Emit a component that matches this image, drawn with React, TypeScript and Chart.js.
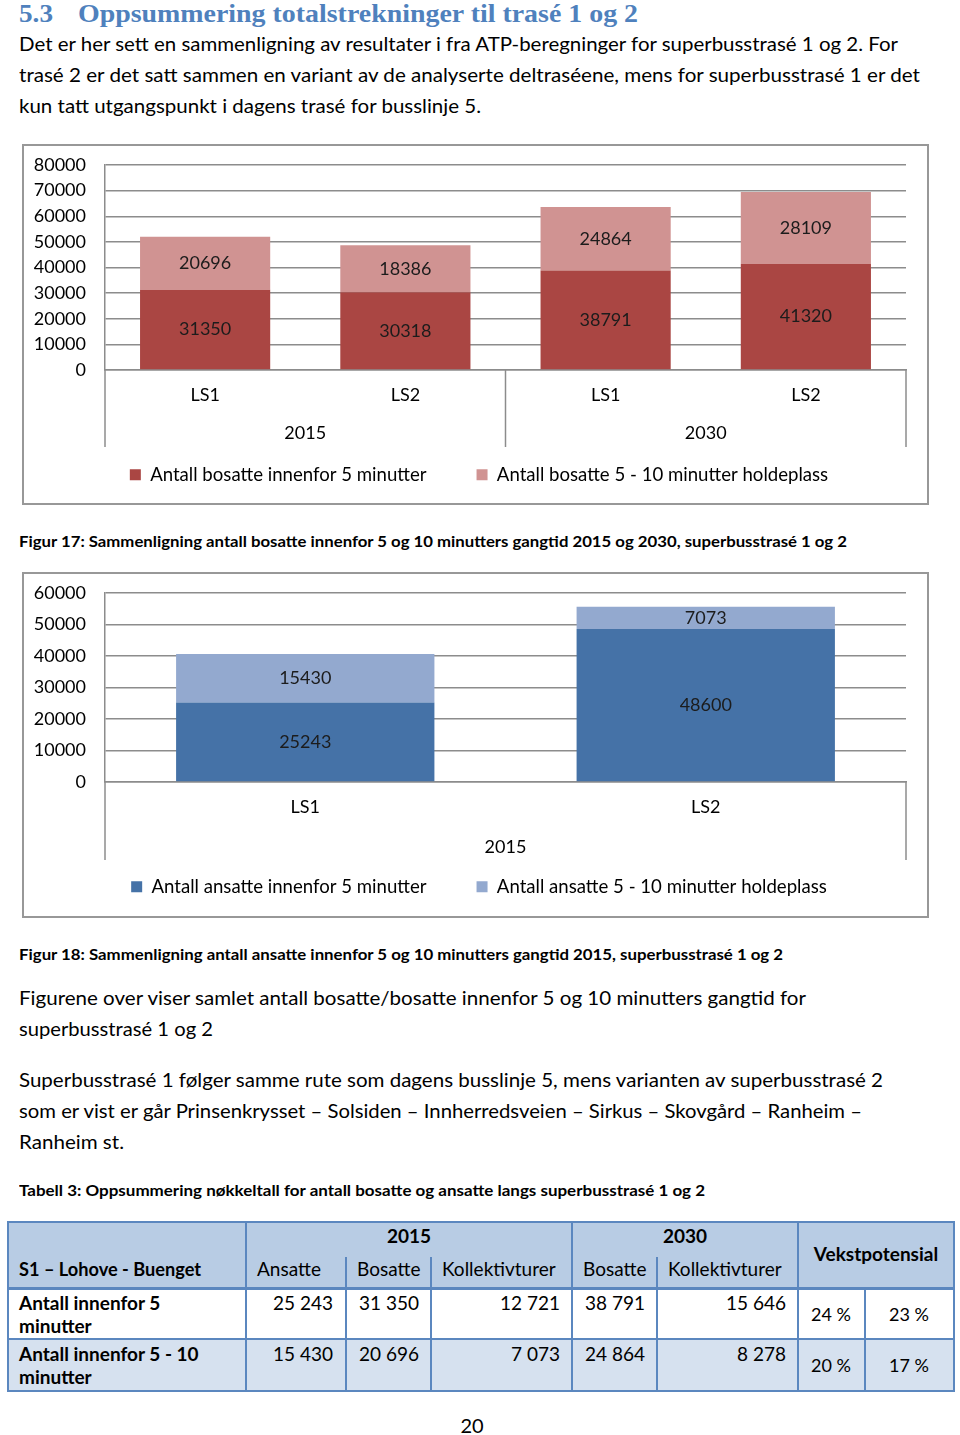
import React, { useEffect, useLayoutEffect, useRef } from 'react';
import { Chart, registerables } from 'chart.js';

Chart.register(...registerables);
Chart.defaults.font.family = 'Lato';

// ---------- Data: Figur 17 (bosatte) ----------
const bosCategories = ['LS1', 'LS2', 'LS1', 'LS2'];
const bosGroups = ['2015', '2030'];
const bosatteInnen5 = [31350, 30318, 38791, 41320];
const bosatte5til10 = [20696, 18386, 24864, 28109];
const bosSeriesLabels = ['Antall bosatte innenfor 5 minutter', 'Antall bosatte 5 - 10 minutter holdeplass'];
const bosYMax = 80000;

// ---------- Data: Figur 18 (ansatte) ----------
const ansCategories = ['LS1', 'LS2'];
const ansGroups = ['2015'];
const ansatteInnen5 = [25243, 48600];
const ansatte5til10 = [15430, 7073];
const ansSeriesLabels = ['Antall ansatte innenfor 5 minutter', 'Antall ansatte 5 - 10 minutter holdeplass'];
const ansYMax = 60000;

const yStep = 10000;

// ---------- Data: Tabell 3 ----------
const tableRowLabels = [['Antall innenfor 5', 'minutter'], ['Antall innenfor 5 - 10', 'minutter']];
const tableValues = [
  ['25 243', '31 350', '12 721', '38 791', '15 646'],
  ['15 430', '20 696', '7 073', '24 864', '8 278'],
];
const tableGrowth = [['24 %', '23 %'], ['20 %', '17 %']];

const GRID = '#8c8c8c';
const BLUE_LINE = '#5B87BF';
const LEGEND_FONT = 18.6;
const LEGEND_PAD = 50;
const PLOT_TOP = 19;
const PAD_LEFT = 28;
const PLOT_LEFT = 81;
const Y_LABEL_GAP = 19;

const groupAxisPlugin = {
  id: 'groupAxis',
  afterDraw(chart: any, _args: any, opts: any) {
    const x = chart.scales.x;
    const ctx = chart.ctx;
    const bottom = chart.chartArea.bottom;
    const groups: string[] = opts.groups;
    const n = chart.data.labels.length;
    const per = n / groups.length;
    const half = (x.getPixelForValue(1) - x.getPixelForValue(0)) / 2;
    ctx.save();
    ctx.strokeStyle = GRID;
    ctx.lineWidth = 1.5;
    for (let g = 0; g <= groups.length; g++) {
      const idx = g * per;
      const px = idx < n ? x.getPixelForValue(idx) - half : x.getPixelForValue(n - 1) + half;
      ctx.beginPath();
      ctx.moveTo(px, bottom);
      ctx.lineTo(px, bottom + opts.length);
      ctx.stroke();
    }
    ctx.fillStyle = '#000';
    ctx.font = '18px Lato';
    ctx.textAlign = 'center';
    ctx.textBaseline = 'middle';
    groups.forEach((label, g) => {
      const a = x.getPixelForValue(g * per);
      const b = x.getPixelForValue(g * per + per - 1);
      ctx.fillText(label, (a + b) / 2, bottom + opts.labelOffset);
    });
    ctx.restore();
  },
};

const valueLabelPlugin = {
  id: 'valueLabels',
  afterDatasetsDraw(chart: any) {
    const ctx = chart.ctx;
    ctx.save();
    ctx.font = '18px Lato';
    ctx.fillStyle = '#1c1c1c';
    ctx.textAlign = 'center';
    ctx.textBaseline = 'middle';
    chart.data.datasets.forEach((ds: any, i: number) => {
      const meta = chart.getDatasetMeta(i);
      meta.data.forEach((el: any, j: number) => {
        ctx.fillText(String(ds.data[j]), el.x, (el.y + el.base) / 2);
      });
    });
    ctx.restore();
  },
};

type ChartProps = {
  labels: string[];
  groups: string[];
  series: number[][];
  seriesLabels: string[];
  colors: string[];
  yMax: number;
  catPct: number;
  sepLen: number;
  groupOffset: number;
  left: number;
  top: number;
  width: number;
  height: number;
  padBottom: number;
  plotHeight: number;
};

function StackedChart(p: ChartProps) {
  const ref = useRef<HTMLCanvasElement>(null);
  useEffect(() => {
    const canvas = ref.current as HTMLCanvasElement;
    const mctx = canvas.getContext('2d') as CanvasRenderingContext2D;
    mctx.font = '18px Lato';
    const widest = mctx.measureText(String(p.yMax)).width;
    const legendH = LEGEND_FONT + LEGEND_PAD + 10;
    const xH = p.height - p.padBottom - legendH - (PLOT_TOP + p.plotHeight);
    const chart = new Chart(canvas, {
      type: 'bar',
      data: {
        labels: p.labels,
        datasets: p.series.map((d, i) => ({
          label: p.seriesLabels[i],
          data: d,
          backgroundColor: p.colors[i],
          borderWidth: 0,
          categoryPercentage: p.catPct,
          barPercentage: 1,
        })),
      },
      options: {
        animation: false,
        responsive: false,
        maintainAspectRatio: false,
        devicePixelRatio: 1,
        layout: { padding: { top: PLOT_TOP, right: 21, bottom: p.padBottom, left: PAD_LEFT } },
        scales: {
          x: {
            stacked: true,
            grid: { display: true, drawOnChartArea: false, drawTicks: false },
            border: { display: true, color: GRID, width: 1.5 },
            ticks: { color: '#000', font: { size: 18 }, padding: 14 },
            afterFit: (s: any) => { s.height = xH; },
          },
          y: {
            stacked: true,
            min: 0,
            max: p.yMax,
            ticks: {
              stepSize: yStep,
              color: '#000',
              font: { size: 18 },
              mirror: true,
              crossAlign: 'far',
              padding: -(Y_LABEL_GAP + widest),
              callback: (v: any) => String(v),
            },
            grid: { color: GRID, lineWidth: 1.5, drawTicks: false },
            border: { display: true, color: GRID, width: 1.5 },
            afterFit: (s: any) => { s.width = PLOT_LEFT - PAD_LEFT; },
          },
        },
        plugins: {
          legend: {
            position: 'bottom',
            labels: { boxWidth: 11, boxHeight: 11, padding: LEGEND_PAD, color: '#000', font: { size: LEGEND_FONT } },
          },
          tooltip: { enabled: false },
          groupAxis: { groups: p.groups, length: p.sepLen, labelOffset: p.groupOffset },
        } as any,
      },
      plugins: [groupAxisPlugin, valueLabelPlugin],
    } as any);
    return () => chart.destroy();
  }, []);
  return (
    <canvas
      ref={ref}
      width={p.width}
      height={p.height}
      style={{ position: 'absolute', left: p.left, top: p.top, width: p.width, height: p.height }}
    />
  );
}

type TP = {
  text: string;
  x: number;
  base: number;
  size: number;
  w?: number;
  bold?: boolean;
  align?: 'left' | 'right' | 'center';
  color?: string;
  serif?: boolean;
};

function T({ text, x, base, size, w, bold, align = 'left', color = '#000', serif }: TP) {
  const ref = useRef<HTMLSpanElement>(null);
  useLayoutEffect(() => {
    const el = ref.current;
    if (!el || !w) return;
    el.style.transform = 'none';
    const nat = el.getBoundingClientRect().width;
    if (nat > 0) el.style.transform = `scaleX(${w / nat})`;
  });
  const asc = serif ? 0.9375 : 0.987;
  const lh = size * 1.2;
  const top = base - asc * size;
  let left = x;
  let width: number | undefined;
  if (align === 'right') { left = x - 500; width = 500; }
  else if (align === 'center') { left = x - 400; width = 800; }
  return (
    <div
      style={{
        position: 'absolute', left, top, width, textAlign: align,
        fontFamily: serif ? '"Liberation Serif", serif' : 'Lato, sans-serif',
        fontSize: size, lineHeight: `${lh}px`, fontWeight: bold ? 700 : 400,
        color, whiteSpace: 'nowrap',
      }}
    >
      <span ref={ref} style={{ display: 'inline-block', transformOrigin: 'left center' }}>{text}</span>
    </div>
  );
}

function HL({ x1, x2, y, t = 2 }: { x1: number; x2: number; y: number; t?: number }) {
  return <div style={{ position: 'absolute', left: x1 - 1, top: y - t / 2, width: x2 - x1 + 2, height: t, background: BLUE_LINE }} />;
}
function VL({ x, y1, y2, t = 2 }: { x: number; y1: number; y2: number; t?: number }) {
  return <div style={{ position: 'absolute', left: x - t / 2, top: y1, width: t, height: y2 - y1, background: BLUE_LINE }} />;
}

function Table() {
  const X = [8, 246, 346, 431, 572, 657, 798, 865, 954];
  const Y = [1222, 1257, 1288, 1339, 1391];
  const valueRight = [333, 419, 560, 645, 786];
  const growthCenter = [831, 909];
  const rowBase = [1311, 1362];
  const row2Base = [1334, 1385];
  const growthBase = [1322, 1373];
  return (
    <>
      <div style={{ position: 'absolute', left: X[0], top: Y[0], width: X[8] - X[0], height: Y[2] - Y[0], background: '#B8CCE4' }} />
      <div style={{ position: 'absolute', left: X[0], top: Y[3], width: X[8] - X[0], height: Y[4] - Y[3], background: '#D6E1EF' }} />
      <HL x1={X[0]} x2={X[8]} y={Y[0]} />
      <HL x1={X[0]} x2={X[8]} y={Y[2]} t={3} />
      <HL x1={X[0]} x2={X[8]} y={Y[3]} />
      <HL x1={X[0]} x2={X[8]} y={Y[4]} />
      <VL x={X[0]} y1={Y[0]} y2={Y[4]} />
      <VL x={X[1]} y1={Y[0]} y2={Y[4]} />
      <VL x={X[2]} y1={Y[1]} y2={Y[4]} />
      <VL x={X[3]} y1={Y[1]} y2={Y[4]} />
      <VL x={X[4]} y1={Y[0]} y2={Y[4]} />
      <VL x={X[5]} y1={Y[1]} y2={Y[4]} />
      <VL x={X[6]} y1={Y[0]} y2={Y[4]} />
      <VL x={X[7]} y1={Y[2]} y2={Y[4]} />
      <VL x={X[8]} y1={Y[0]} y2={Y[4]} />

      <T text="2015" x={409} base={1244} size={19} bold align="center" />
      <T text="2030" x={685} base={1244} size={19} bold align="center" />
      <T text="Vekstpotensial" x={876} base={1262} size={19} bold align="center" />
      <T text="S1 – Lohove - Buenget" x={19} base={1277} size={19} bold w={182} />
      <T text="Ansatte" x={257} base={1277} size={19} />
      <T text="Bosatte" x={357} base={1277} size={19} />
      <T text="Kollektivturer" x={442} base={1277} size={19} />
      <T text="Bosatte" x={583} base={1277} size={19} />
      <T text="Kollektivturer" x={668} base={1277} size={19} />

      {tableRowLabels.map((lines, r) => (
        <React.Fragment key={'rl' + r}>
          <T text={lines[0]} x={19} base={rowBase[r]} size={19} bold />
          <T text={lines[1]} x={19} base={row2Base[r]} size={19} bold />
        </React.Fragment>
      ))}
      {tableValues.map((row, r) =>
        row.map((v, c) => <T key={`v${r}${c}`} text={v} x={valueRight[c]} base={rowBase[r]} size={19} align="right" />)
      )}
      {tableGrowth.map((row, r) =>
        row.map((v, c) => <T key={`g${r}${c}`} text={v} x={growthCenter[c]} base={growthBase[r]} size={18} align="center" />)
      )}
    </>
  );
}

export default function App() {
  useEffect(() => {
    document.body.style.margin = '0';
  }, []);
  return (
    <div style={{ position: 'absolute', left: 0, top: 0, width: 960, height: 1435, background: '#fff', overflow: 'hidden' }}>
      <T text="5.3" x={19} base={22} size={26} bold serif color="#4F81BD" w={34} />
      <T text="Oppsummering totalstrekninger til trasé 1 og 2" x={78} base={22} size={26} bold serif color="#4F81BD" w={560} />
      <T text="Det er her sett en sammenligning av resultater i fra ATP-beregninger for superbusstrasé 1 og 2. For" x={19} base={51} size={20} w={879} />
      <T text="trasé 2 er det satt sammen en variant av de analyserte deltraséene, mens for superbusstrasé 1 er det" x={19} base={82} size={20} w={901} />
      <T text="kun tatt utgangspunkt i dagens trasé for busslinje 5." x={19} base={113} size={20} w={462} />

      <div style={{ position: 'absolute', left: 22, top: 144, width: 907, height: 361, border: '2px solid #989898', boxSizing: 'border-box' }} />
      <StackedChart
        labels={bosCategories}
        groups={bosGroups}
        series={[bosatteInnen5, bosatte5til10]}
        seriesLabels={bosSeriesLabels}
        colors={['#AA4643', '#D09392']}
        yMax={bosYMax}
        catPct={0.65}
        sepLen={77}
        groupOffset={63}
        left={24}
        top={146}
        width={903}
        height={357}
        padBottom={9}
        plotHeight={205}
      />

      <T text="Figur 17: Sammenligning antall bosatte innenfor 5 og 10 minutters gangtid 2015 og 2030, superbusstrasé 1 og 2" x={19} base={547} size={15} bold w={828} />

      <div style={{ position: 'absolute', left: 22, top: 572, width: 907, height: 346, border: '2px solid #989898', boxSizing: 'border-box' }} />
      <StackedChart
        labels={ansCategories}
        groups={ansGroups}
        series={[ansatteInnen5, ansatte5til10]}
        seriesLabels={ansSeriesLabels}
        colors={['#4572A7', '#93A9CF']}
        yMax={ansYMax}
        catPct={0.645}
        sepLen={78}
        groupOffset={65}
        left={24}
        top={574}
        width={903}
        height={342}
        padBottom={10}
        plotHeight={189}
      />

      <T text="Figur 18: Sammenligning antall ansatte innenfor 5 og 10 minutters gangtid 2015, superbusstrasé 1 og 2" x={19} base={960} size={15} bold w={764} />

      <T text="Figurene over viser samlet antall bosatte/bosatte innenfor 5 og 10 minutters gangtid for" x={19} base={1005} size={20} w={787} />
      <T text="superbusstrasé 1 og 2" x={19} base={1036} size={20} w={194} />
      <T text="Superbusstrasé 1 følger samme rute som dagens busslinje 5, mens varianten av superbusstrasé 2" x={19} base={1087} size={20} w={864} />
      <T text="som er vist er går Prinsenkrysset – Solsiden – Innherredsveien – Sirkus – Skovgård – Ranheim –" x={19} base={1118} size={20} w={843} />
      <T text="Ranheim st." x={19} base={1149} size={20} w={105} />

      <T text="Tabell 3: Oppsummering nøkkeltall for antall bosatte og ansatte langs superbusstrasé 1 og 2" x={19} base={1196} size={15} bold w={686} />

      <Table />

      <T text="20" x={472} base={1433} size={20} align="center" />
    </div>
  );
}
